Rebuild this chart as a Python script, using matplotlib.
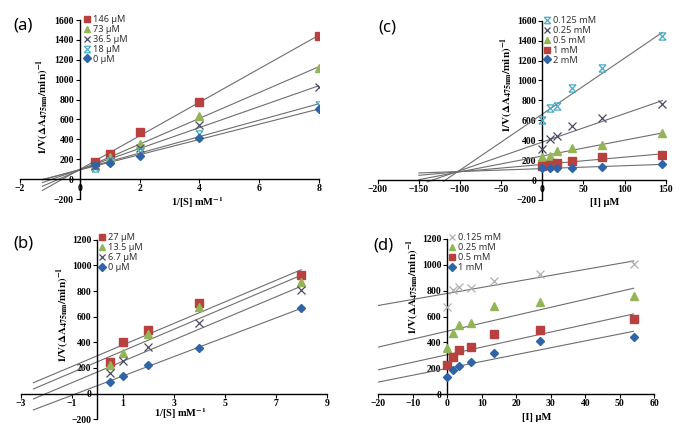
import numpy as np
import matplotlib
matplotlib.use("Agg")
import matplotlib.pyplot as plt
from matplotlib.path import Path

plt.rcParams['font.family'] = ['Liberation Serif', 'DejaVu Serif']
plt.rcParams['font.weight'] = 'bold'
plt.rcParams['mathtext.fontset'] = 'stix'

# ---------------- data ----------------
# (a) 1/[S] vs 1/V at several inhibitor concentrations
a_x = [0.5, 1, 2, 4, 8]
a_146 = [168, 252, 470, 771, 1442]
a_73 = [141, 225, 349, 634, 1120]
a_365 = [134, 205, 309, 540, 929]
a_18 = [114, 180, 275, 449, 745]
a_0 = [141, 164, 231, 409, 704]
a_labels = ['146 µM', '73 µM', '36.5 µM', '18 µM', '0 µM']

# (b)
b_x = [0.5, 1, 2, 4, 8]
b_27 = [248, 405, 493, 706, 923]
b_135 = [220, 316, 463, 675, 873]
b_67 = [160, 256, 362, 549, 810]
b_0 = [94, 139, 220, 359, 665]
b_labels = ['27 µM', '13.5 µM', '6.7 µM', '0 µM']

# (c) [I] vs 1/V at several substrate concentrations
c_x = [0, 9.1, 18, 36.5, 73, 146]
c_0125 = [605, 722, 739, 927, 1122, 1445]
c_025 = [312, 413, 440, 538, 625, 766]
c_05 = [228, 239, 289, 323, 350, 470]
c_1 = [144, 155, 175, 195, 228, 252]
c_2 = [124, 118, 118, 118, 134, 161]
c_labels = ['0.125 mM', '0.25 mM', '0.5 mM', '1 mM', '2 mM']

# (d)
d_x = [0, 1.7, 3.4, 6.75, 13.5, 27, 54]
d_0125 = [676, 805, 831, 823, 877, 929, 1004]
d_025 = [359, 470, 534, 547, 681, 710, 759]
d_05 = [222, 289, 341, 361, 462, 495, 581]
d_1 = [134, 186, 219, 250, 320, 408, 439]
d_labels = ['0.125 mM', '0.25 mM', '0.5 mM', '1 mM']

# ---------------- styles ----------------
STAR = Path([(-1, -1), (1, 1), (-1, 1), (1, -1), (-0.9, 1), (0.9, 1), (-0.9, -1), (0.9, -1)],
            [Path.MOVETO, Path.LINETO] * 4)

RED = dict(marker='s', color='#B8413F', ms=5.2)
GREEN = dict(marker='^', color='#93B555', ms=5.5)
DARKX = dict(marker='x', color='#4A4A66', ms=5.2, mew=0.9)
CYAN = dict(marker=STAR, color='#4BACC6', ms=5.2, mew=0.9)
BLUE = dict(marker='D', color='#2F65A8', ms=4)
LIGHTX = dict(marker='x', color='#B0B0B0', ms=5.2, mew=0.9)

LINE_COLOR = '#6E6E6E'

W, H = 685, 433
fig = plt.figure(figsize=(W / 100, H / 100), dpi=100)


def rect(x0, x1, ytop, ybot):
    return [x0 / W, 1 - ybot / H, (x1 - x0) / W, (ybot - ytop) / H]


def make_axes(r, xlim, ylim, xticks, yticks):
    ax = fig.add_axes(r)
    ax.set_xlim(*xlim)
    ax.set_ylim(*ylim)
    ax.spines['left'].set_position(('data', 0))
    ax.spines['bottom'].set_position(('data', 0))
    ax.spines['top'].set_visible(False)
    ax.spines['right'].set_visible(False)
    for s in ('left', 'bottom'):
        ax.spines[s].set_linewidth(1.0)
    ax.set_xticks(xticks)
    ax.set_yticks(yticks)
    ax.tick_params(direction='out', length=3, width=0.8, labelsize=7, pad=1.2)
    ax.tick_params(axis='x', pad=0.8)
    ax.patch.set_alpha(0)
    return ax


def draw(ax, x, series, styles, labels, starts, xend):
    handles = []
    for y, st, lab, xs in zip(series, styles, labels, starts):
        k, b = np.polyfit(x, y, 1)
        xx = np.array([xs, xend])
        ax.plot(xx, k * xx + b, color=LINE_COLOR, lw=0.8, zorder=2)
        h, = ax.plot(x, y, ls='none', zorder=3, label=lab, **st)
        handles.append(h)
    return handles


def legend(ax, handles, x, y):
    ax.legend(handles=handles, loc='upper left', bbox_to_anchor=(x / W, 1 - y / H),
              bbox_transform=fig.transFigure, frameon=False,
              prop=dict(family='Noto Sans', weight='normal', size=6.6),
              handlelength=0.7, handletextpad=0.25, labelspacing=0.1,
              borderpad=0, borderaxespad=0, labelcolor='#333333', markerscale=0.9)


YLAB = r'$\mathbf{1/V(\Delta A_{475nm}/min)^{-1}}$'
XLAB_S = '1/[S] mM$^{\\mathbf{-1}}$'
XLAB_I = '[I] µM'

# ---------------- (a) ----------------
ax = make_axes(rect(20, 319, 20, 199), (-2, 8), (-200, 1600),
               np.arange(-2, 9, 2), np.arange(-200, 1601, 200))
hs = draw(ax, a_x, [a_146, a_73, a_365, a_18, a_0],
          [RED, GREEN, DARKX, CYAN, BLUE], a_labels, [-1.25] * 5, 8)
legend(ax, hs, 84, 15)

# ---------------- (c) ----------------
ax = make_axes(rect(377.7, 665.7, 20.7, 200), (-200, 150), (-200, 1600),
               np.arange(-200, 151, 50), np.arange(-200, 1601, 200))
hs = draw(ax, c_x, [c_0125, c_025, c_05, c_1, c_2],
          [CYAN, DARKX, GREEN, RED, BLUE], c_labels,
          [-120, -140, -150, -150, -150], 146)
legend(ax, hs, 544, 16)

# ---------------- (b) ----------------
ax = make_axes(rect(20.7, 326.7, 239.7, 419.3), (-3, 9), (-200, 1200),
               np.arange(-3, 10, 2), np.arange(-200, 1201, 200))
hs = draw(ax, b_x, [b_27, b_135, b_67, b_0],
          [RED, GREEN, DARKX, BLUE], b_labels, [-2.5] * 4, 8)
legend(ax, hs, 99, 233)

# ---------------- (d) ----------------
ax = make_axes(rect(378.3, 654.3, 239, 394), (-20, 60), (0, 1200),
               np.arange(-20, 61, 10), np.arange(0, 1201, 200))
hs = draw(ax, d_x, [d_0125, d_025, d_05, d_1],
          [LIGHTX, GREEN, RED, BLUE], d_labels, [-20] * 4, 54)
legend(ax, hs, 449, 233)

# ---------------- text ----------------
def ftext(x, y, s, **kw):
    fig.text(x / W, 1 - y / H, s, ha='center', va='center', **kw)

for (x, y, s) in [(23, 26, '(a)'), (387, 27, '(c)'), (23, 243, '(b)'), (383, 245, '(d)')]:
    ftext(x, y, s, family='Noto Sans', weight='bold', size=12)

ftext(43, 107, YLAB, rotation=90, size=8)
ftext(507, 85, YLAB, rotation=90, size=8)
ftext(63, 315, YLAB, rotation=90, size=8)
ftext(413, 287, YLAB, rotation=90, size=8)

ftext(197, 203, XLAB_S, size=7.5)
ftext(605, 203, XLAB_I, size=7.5)
ftext(180, 414, XLAB_S, size=7.5)
ftext(537, 418, XLAB_I, size=7.5)

fig.savefig('out.png', dpi=100)
